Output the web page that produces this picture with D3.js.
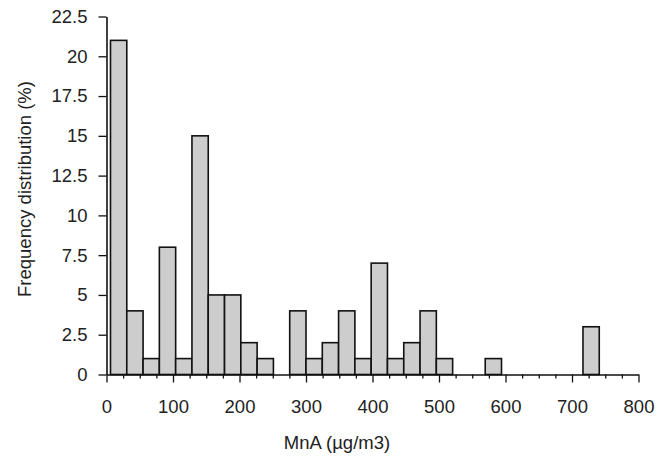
<!DOCTYPE html>
<html><head><meta charset="utf-8">
<script src="https://cdn.jsdelivr.net/npm/d3@7"></script>
<style>body{margin:0;background:#fff}svg{display:block}text{font-family:"Liberation Sans",Arial,sans-serif;fill:#222}</style>
</head><body><svg id="c" width="667" height="456"></svg>
<script>
const binStarts = [6,30.5,55,79.5,104,128.5,153,177.5,202,226.5,251,275.5,300,324.5,349,373.5,398,422.5,447,471.5,496,520.5,545,569.5,594,618.5,643,667.5,692,716.5];
const binWidth = 24.5;
const freqValues = [21,4,1,8,1,15,5,5,2,1,0,4,1,2,4,1,7,1,2,4,1,0,0,1,0,0,0,0,0,3];
const xTicks = [0,100,200,300,400,500,600,700,800];
const yTicks = [0,2.5,5,7.5,10,12.5,15,17.5,20,22.5];
const xTitle = "MnA (µg/m3)";
const yTitle = "Frequency distribution (%)";

const svg = d3.select("#c");
const x = d3.scaleLinear().domain([0,800]).range([106.5,638.5]);
const y = d3.scaleLinear().domain([0,22.5]).range([374.5,16.5]);
const FS = 18.5;

const data = binStarts.map((s,i)=>({s, v:freqValues[i]})).filter(d=>d.v>0);
svg.append("g").selectAll("rect").data(data).join("rect")
  .attr("x",d=>x(d.s)).attr("width",d=>x(d.s+binWidth)-x(d.s))
  .attr("y",d=>y(d.v)).attr("height",d=>y(0)-y(d.v))
  .attr("fill","#cdcdcd").attr("stroke","#111").attr("stroke-width",1.6);

// x axis with minor ticks
const minor = d3.range(0,801,25);
const xa = svg.append("g").attr("transform",`translate(0,${y(0)})`);
xa.call(d3.axisBottom(x).tickValues(minor).tickSize(4).tickSizeOuter(0).tickFormat(""));
xa.selectAll(".tick line").filter(d=>d%100===0).attr("y2",8);
xa.select(".domain").attr("stroke-width",1.6).attr("stroke","#111");
xa.selectAll(".tick line").attr("stroke","#111").attr("stroke-width",1.3);
svg.append("g").attr("transform",`translate(0,${y(0)})`)
  .call(d3.axisBottom(x).tickValues(xTicks).tickSize(0).tickPadding(25))
  .call(g=>{g.select(".domain").remove();g.selectAll("text").attr("font-size",FS).attr("fill","#222");});

const ya = svg.append("g").attr("transform",`translate(${x(0)},0)`)
  .call(d3.axisLeft(y).tickValues(yTicks).tickSize(8).tickPadding(11).tickSizeOuter(0).tickFormat(d=>d3.format("")(d)));
ya.select(".domain").attr("stroke-width",1.6).attr("stroke","#111");
ya.selectAll(".tick line").attr("stroke","#111").attr("stroke-width",1.3);
ya.selectAll("text").attr("font-size",FS).attr("fill","#222");

svg.append("text").attr("x",337).attr("y",449).attr("text-anchor","middle").attr("font-size",FS).text(xTitle);
svg.append("text").attr("transform","translate(31,189) rotate(-90)").attr("text-anchor","middle").attr("font-size",FS).text(yTitle);
</script></body></html>
